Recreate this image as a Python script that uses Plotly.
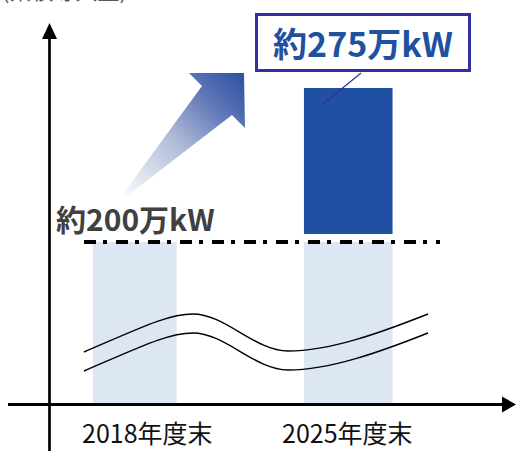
import base64
import plotly.graph_objects as go

# ---------------- data ----------------
categories = ["2018年度末", "2025年度末"]
base_values = [200, 200]      # 万kW (light bars, broken axis)
target_values = [None, 275]   # 万kW (dark increment bar top)
base_label = "約200万kW"
target_label = "約275万kW"
axis_note = "(累積導入量)"

# ---------------- layout geometry / styles ----------------
W, H = 516, 451
ML, MR, MT, MB = 28, 61, 0, 47
PW = W - ML - MR
PH = H - MT - MB
Y_RANGE = [121.1, 317.9]
GAP = 3.9
LIGHT = "#dde7f3"
DARK = "#2050a2"
FONT = "Noto Sans CJK JP"


def px(x):
    return (x - ML) / PW


def py(y):
    return (H - MB - y) / PH


fig = go.Figure()
fig.add_trace(go.Bar(x=categories, y=base_values, width=[0.393, 0.415],
                     marker=dict(color=LIGHT, line=dict(width=0)),
                     hoverinfo="skip", showlegend=False))
fig.add_trace(go.Bar(x=[categories[1]],
                     y=[target_values[1] - base_values[1] - GAP],
                     base=[base_values[1] + GAP], width=[0.415],
                     marker=dict(color=DARK, line=dict(width=0)),
                     hoverinfo="skip", showlegend=False))

shapes = []
# axes
shapes.append(dict(type="line", xref="paper", yref="paper",
                   x0=px(49.5), x1=px(49.5), y0=py(451), y1=py(38),
                   line=dict(color="black", width=2.7)))
shapes.append(dict(type="path", xref="paper", yref="paper",
                   path=f"M {px(42)},{py(39)} L {px(57)},{py(39)} L {px(49.5)},{py(23)} Z",
                   fillcolor="black", line=dict(width=0)))
shapes.append(dict(type="line", xref="paper", yref="paper",
                   x0=px(8), x1=px(503), y0=py(404.5), y1=py(404.5),
                   line=dict(color="black", width=3)))
shapes.append(dict(type="path", xref="paper", yref="paper",
                   path=f"M {px(502)},{py(396.5)} L {px(502)},{py(412.5)} L {px(516)},{py(404.5)} Z",
                   fillcolor="black", line=dict(width=0)))


# break (wave) marks
def wave(dy):
    pts = [(84, 352), (140, 328), (168, 314), (193, 314),
           (225, 314), (255, 351), (288, 351),
           (330, 351), (380, 333), (428, 314)]
    p = [(px(a), py(b + dy)) for a, b in pts]
    s = f"M {p[0][0]},{p[0][1]}"
    for i in range(1, len(p), 3):
        s += f" C {p[i][0]},{p[i][1]} {p[i+1][0]},{p[i+1][1]} {p[i+2][0]},{p[i+2][1]}"
    return s


for dy in (0, 19):
    shapes.append(dict(type="path", xref="paper", yref="paper", path=wave(dy),
                       line=dict(color="black", width=1.4)))

# 200 level dash-dot line
shapes.append(dict(type="line", xref="paper", yref="y",
                   x0=px(84), x1=px(440), y0=base_values[0], y1=base_values[0],
                   line=dict(color="black", width=4, dash="12px,7px,4px,9px")))
# leader line of callout
shapes.append(dict(type="line", xref="paper", yref="paper",
                   x0=px(361), y0=py(73), x1=px(323), y1=py(104),
                   line=dict(color="#3030a0", width=1.2)))

# gradient arrow as svg image
ox, oy, ow, oh = 110, 65, 140, 140
pts = [(120, 198), (202, 86), (189, 73), (244, 73), (245, 128), (232, 115), (123, 199)]
poly = " ".join(f"{a - ox},{b - oy}" for a, b in pts)
svg = (f'<svg xmlns="http://www.w3.org/2000/svg" width="{ow}" height="{oh}" viewBox="0 0 {ow} {oh}">'
       f'<defs><linearGradient id="g" gradientUnits="userSpaceOnUse" x1="{120 - ox}" y1="{198 - oy}" x2="{244 - ox}" y2="{73 - oy}">'
       '<stop offset="0" stop-color="#ffffff"/><stop offset="0.45" stop-color="#b0bbd8"/>'
       '<stop offset="0.75" stop-color="#5f77b7"/><stop offset="1" stop-color="#2a52a3"/>'
       '</linearGradient></defs>'
       f'<polygon points="{poly}" fill="url(#g)"/></svg>')
src = "data:image/svg+xml;base64," + base64.b64encode(svg.encode()).decode()
images = [dict(source=src, xref="paper", yref="paper", x=px(ox), y=py(oy),
               sizex=ow / PW, sizey=oh / PH, sizing="stretch",
               xanchor="left", yanchor="top", layer="above")]

annotations = [
    dict(text=f"<b>{base_label}</b>", xref="paper", yref="paper", x=px(54), y=py(218),
         xanchor="left", yanchor="middle", showarrow=False,
         font=dict(family=FONT, size=30, color="#404040")),
    dict(text=f"<b>{target_label}</b>", xref="paper", yref="paper", x=px(363), y=py(42.5),
         xanchor="center", yanchor="middle", showarrow=False,
         width=210, height=53, borderwidth=3, borderpad=0,
         bordercolor="#3030a0", bgcolor="white",
         font=dict(family=FONT, size=34, color="#2050a0")),
    dict(text=axis_note, xref="paper", yref="paper", x=px(0), y=py(6.5),
         xanchor="left", yanchor="bottom", showarrow=False,
         font=dict(family=FONT, size=22, color="#595959")),
]
for cat, shift in zip(categories, [12.5, -1]):
    annotations.append(dict(text=cat, xref="x", yref="paper", x=cat, y=py(432),
                            xshift=shift, xanchor="center", yanchor="middle",
                            showarrow=False,
                            font=dict(family=FONT, size=25, color="#111111")))

fig.update_layout(
    width=W, height=H, margin=dict(l=ML, r=MR, t=MT, b=MB),
    paper_bgcolor="white", plot_bgcolor="white", barmode="overlay",
    xaxis=dict(type="category", range=[-0.5, 1.5], showgrid=False, zeroline=False,
               showticklabels=False, showline=False, ticks=""),
    yaxis=dict(range=Y_RANGE, showgrid=False, zeroline=False,
               showticklabels=False, showline=False, ticks=""),
    shapes=shapes, images=images, annotations=annotations,
)

fig.write_html("out.html", config={"displayModeBar": False},
               post_script="document.body.style.margin='0';")
